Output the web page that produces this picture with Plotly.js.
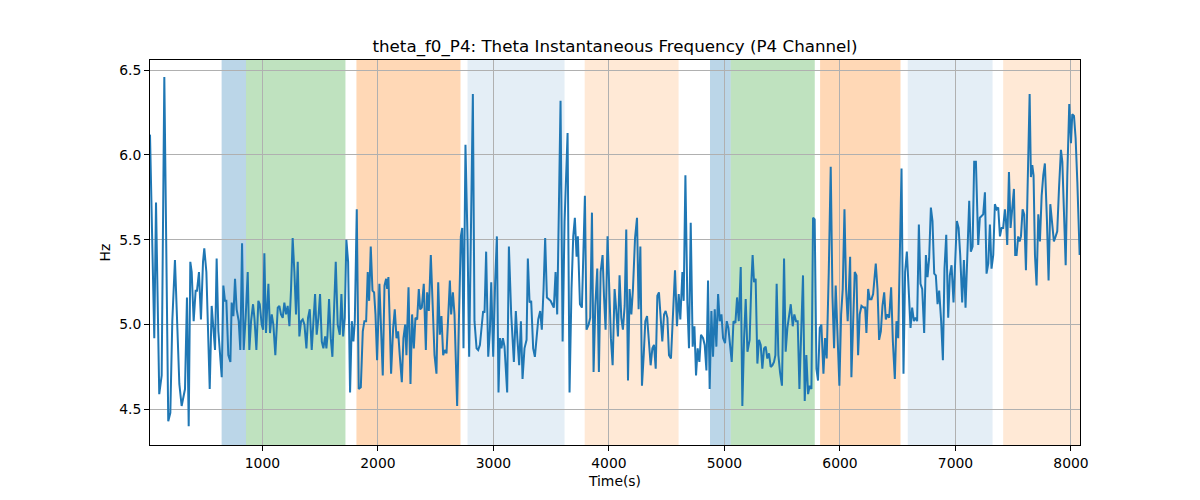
<!DOCTYPE html>
<html>
<head>
<meta charset="utf-8">
<script src="https://cdn.plot.ly/plotly-3.0.1.min.js"></script>
<style>
  html, body { margin: 0; padding: 0; background: #fff; }
  #myPlot { width: 1200px; height: 500px; }
</style>
</head>
<body>
<div id="myPlot"></div>
<script>
// Time (s) and theta instantaneous frequency (Hz)
const time = [
  27, 64, 79, 107, 128, 151, 185, 203, 220, 243, 281, 301, 330, 347, 362, 376, 388, 405, 422, 434,
  451, 468, 486, 497, 515, 544, 561, 575, 590, 604, 619, 648, 662, 676, 688, 705, 723, 734, 749, 763,
  777, 795, 809, 824, 838, 855, 873, 887, 902, 919, 931, 948, 965, 977, 994, 1006,
  1017, 1031, 1052, 1066, 1081, 1095, 1112, 1133, 1147, 1161, 1176, 1190, 1205, 1219, 1234, 1248, 1262, 1277, 1291, 1306,
  1320, 1335, 1349, 1364, 1381, 1395, 1410, 1427, 1442, 1456, 1470, 1485, 1499, 1514, 1528, 1543, 1554, 1563, 1577, 1592,
  1606, 1621, 1635, 1652, 1670, 1684, 1699, 1713, 1727, 1742, 1759, 1774, 1788, 1800, 1817, 1834, 1852, 1869, 1883, 1898,
  1912, 1924, 1938, 1953, 1967, 1979, 1993, 2013, 2028, 2042, 2057,
  2071, 2080, 2091, 2103, 2114, 2132, 2146, 2161, 2175, 2189, 2207, 2221, 2236, 2247, 2265, 2282, 2296, 2311, 2325, 2340,
  2354, 2366, 2380, 2397, 2415, 2426, 2441, 2458, 2475, 2490, 2507, 2522, 2536, 2550, 2565, 2579, 2594, 2608, 2623, 2634,
  2649, 2663, 2686, 2701, 2718, 2730, 2741, 2758, 2776, 2790, 2807, 2822, 2836, 2854, 2868, 2883, 2897, 2911, 2923, 2937,
  2955, 2969, 2981, 2998, 3015, 3030, 3044, 3056, 3070, 3082, 3096, 3119,
  3134, 3154, 3177, 3194, 3209, 3223, 3238, 3252, 3269, 3287, 3298, 3313, 3327, 3344, 3359, 3373, 3388, 3405, 3419, 3434,
  3448, 3463, 3477, 3495, 3509, 3523, 3538, 3552, 3567, 3581, 3599, 3616, 3642, 3659, 3676, 3691, 3705, 3720, 3731, 3749,
  3766, 3778, 3792, 3806, 3824, 3838, 3853, 3867, 3882, 3899, 3913, 3928, 3945, 3957, 3971, 3988, 4006, 4017, 4032, 4049,
  4063, 4078, 4092, 4107, 4121, 4136,
  4150, 4165, 4179, 4194, 4208, 4226, 4243, 4257, 4272, 4286, 4301, 4315, 4330, 4347, 4361, 4376, 4390, 4405, 4419, 4433,
  4448, 4462, 4477, 4491, 4506, 4520, 4537, 4555, 4572, 4589, 4604, 4618, 4636, 4647, 4662, 4679, 4693, 4708, 4725, 4740,
  4754, 4768, 4783, 4797, 4815, 4829, 4844, 4858, 4872, 4887, 4901, 4916, 4930, 4945, 4959, 4974, 4988, 5005, 5020, 5034,
  5049, 5063, 5078, 5095, 5109, 5124, 5141, 5155, 5170, 5184, 5199,
  5218, 5233, 5244, 5256, 5270, 5285, 5299, 5314, 5328, 5343, 5357, 5371, 5386, 5400, 5415, 5429, 5441, 5452, 5467, 5481,
  5498, 5516, 5530, 5545, 5559, 5574, 5591, 5605, 5620, 5634, 5649, 5666, 5680, 5695, 5709, 5724, 5738, 5753, 5767, 5781,
  5796, 5810, 5825, 5839, 5857, 5871, 5885, 5903, 5920, 5935, 5949, 5963, 5981, 5995, 6010, 6024, 6039, 6053, 6067, 6082,
  6088, 6099, 6114, 6128, 6143, 6157, 6171, 6186, 6203, 6218,
  6229, 6244, 6258, 6273, 6287, 6310, 6325, 6339, 6354, 6368, 6383, 6397, 6411, 6426, 6443, 6458, 6475, 6489, 6504, 6518,
  6533, 6550, 6564, 6579, 6593, 6611, 6625, 6640, 6654, 6668, 6683, 6697, 6712, 6729, 6744, 6758, 6772, 6787, 6801, 6816,
  6830, 6845, 6859, 6876, 6891, 6905, 6920, 6937, 6951, 6966, 6983, 6995, 7012, 7027, 7041, 7058, 7073, 7087, 7102, 7119,
  7133, 7148, 7162, 7177,
  7197, 7211, 7226, 7240, 7255, 7269, 7284, 7298, 7312, 7327, 7341, 7356, 7370, 7385, 7399, 7413, 7428, 7437, 7448, 7463,
  7477, 7491, 7506, 7517, 7529, 7543, 7555, 7567, 7581, 7595, 7610, 7624, 7642, 7653, 7665, 7676, 7688, 7702, 7717, 7731,
  7746, 7760, 7774, 7792, 7806, 7821, 7838, 7852, 7867, 7881, 7896, 7913, 7925, 7939, 7954, 7968, 7985, 8000, 8011, 8026,
  8040, 8055, 8075
];
const freq = [
  6.12, 4.92, 5.72, 4.59, 4.70, 6.46, 4.43, 4.48, 5.02, 5.38, 4.65, 4.52, 4.62, 5.16, 4.40, 5.37, 5.31, 5.02, 5.20, 5.20,
  5.31, 5.03, 5.37, 5.45, 5.31, 4.62, 5.11, 4.98, 4.85, 5.39, 4.96, 4.69, 5.23, 5.14, 5.14, 4.82, 4.78, 5.13, 5.05, 5.27,
  5.09, 5.02, 4.85, 5.48, 4.85, 5.04, 5.31, 4.85, 5.02, 5.12, 5.04, 4.85, 5.14, 5.12, 5.00, 4.97,
  5.42, 4.95, 5.24, 4.95, 5.06, 5.00, 4.82, 5.10, 5.11, 5.06, 5.04, 5.13, 5.06, 5.11, 4.99, 5.21, 5.51, 5.31, 5.06, 5.37,
  4.93, 5.02, 5.03, 5.00, 4.86, 5.04, 5.09, 4.85, 5.04, 5.18, 4.94, 5.04, 5.18, 4.90, 4.86, 4.93, 4.86, 4.93, 5.15, 4.92,
  4.81, 5.09, 5.37, 5.00, 4.94, 5.18, 4.93, 5.04, 5.50, 5.37, 4.60, 5.02, 4.90, 5.02, 5.68, 4.62, 4.63, 4.96, 5.02, 5.02,
  5.31, 5.14, 5.46, 5.20, 5.19, 5.06, 4.79, 5.24, 4.98, 4.70, 5.23,
  5.27, 5.21, 5.28, 5.00, 4.71, 4.98, 5.09, 4.92, 4.96, 4.82, 4.66, 4.92, 5.00, 4.82, 5.22, 4.65, 5.06, 4.86, 5.04, 5.03,
  5.21, 5.09, 5.10, 5.24, 4.85, 5.19, 5.08, 5.41, 5.07, 4.82, 4.71, 5.25, 4.94, 5.05, 4.82, 4.85, 4.83, 5.04, 5.26, 5.06,
  5.19, 5.06, 4.52, 5.02, 5.52, 5.57, 4.86, 6.06, 5.49, 4.81, 5.61, 6.36, 5.02, 4.86, 4.85, 4.88, 4.98, 5.08, 5.07, 5.43,
  4.81, 4.96, 5.25, 4.81, 5.25, 5.52, 4.60, 4.92, 4.86, 4.92, 4.87, 4.60,
  5.46, 5.06, 4.78, 5.08, 4.90, 4.76, 5.02, 4.68, 4.86, 4.91, 5.39, 5.13, 5.14, 4.86, 4.81, 4.92, 5.03, 5.08, 4.97, 5.21,
  5.51, 5.16, 5.15, 5.14, 5.12, 5.10, 5.31, 5.06, 5.70, 6.32, 4.90, 5.61, 6.13, 4.60, 5.21, 5.52, 5.63, 5.40, 5.52, 5.12,
  5.10, 5.41, 5.76, 4.97, 5.00, 5.04, 5.66, 4.72, 5.11, 5.33, 4.72, 5.31, 5.41, 5.17, 4.97, 5.52, 5.09, 4.92, 4.76, 5.21,
  5.09, 4.93, 5.29, 5.04, 4.97, 5.11,
  5.56, 4.67, 5.21, 5.06, 5.21, 5.51, 5.63, 5.09, 5.46, 4.64, 4.82, 5.02, 5.05, 4.88, 4.76, 4.86, 4.88, 4.74, 5.17, 5.19,
  5.06, 4.90, 5.06, 5.08, 5.04, 4.82, 4.80, 5.09, 5.32, 4.99, 5.18, 5.03, 5.31, 5.14, 5.88, 5.13, 4.86, 5.60, 4.87, 4.99,
  4.70, 4.86, 4.78, 4.94, 4.92, 4.88, 4.73, 5.26, 4.62, 5.08, 4.81, 5.09, 4.87, 5.18, 5.02, 5.06, 4.92, 4.89, 5.02, 4.98,
  4.86, 4.78, 5.02, 5.01, 5.16, 5.02, 5.34, 4.52, 4.92, 5.15, 4.84,
  4.91, 5.25, 5.41, 5.25, 5.27, 4.77, 4.91, 4.88, 4.74, 4.86, 4.87, 4.80, 4.83, 4.75, 4.76, 4.78, 4.82, 5.24, 4.82, 4.72,
  4.64, 5.39, 4.84, 4.98, 5.04, 5.12, 4.99, 5.06, 5.02, 5.02, 4.62, 5.04, 5.29, 4.55, 4.82, 4.59, 4.64, 4.62, 5.63, 5.62,
  4.74, 4.67, 4.98, 5.00, 4.71, 4.92, 4.80, 5.31, 5.93, 5.17, 4.86, 5.23, 4.86, 4.64, 5.06, 5.21, 5.68, 5.21, 5.02, 5.29,
  5.40, 4.69, 5.02, 5.31, 5.29, 4.82, 5.06, 5.11, 5.10, 5.10,
  4.95, 5.21, 5.15, 5.15, 5.18, 5.36, 5.21, 4.91, 4.96, 5.11, 5.19, 5.03, 5.06, 5.04, 5.22, 4.90, 4.68, 5.02, 4.92, 5.41,
  5.92, 4.71, 5.31, 5.43, 5.23, 4.98, 5.10, 5.02, 5.04, 5.02, 5.59, 5.24, 5.21, 4.95, 5.41, 5.28, 5.39, 5.69, 5.61, 5.30,
  5.29, 5.12, 5.20, 5.02, 4.79, 5.33, 5.53, 5.04, 5.29, 5.35, 5.13, 5.31, 5.61, 5.57, 5.41, 5.13, 5.38, 5.10, 5.41, 5.73,
  5.43, 5.46, 5.96, 5.96,
  5.47, 5.63, 5.64, 5.65, 5.78, 5.30, 5.36, 5.59, 5.33, 5.41, 5.71, 5.68, 5.69, 5.52, 5.57, 5.57, 5.68, 5.61, 5.47, 5.90,
  5.57, 5.68, 5.80, 5.41, 5.41, 5.52, 5.49, 5.52, 5.68, 5.65, 5.32, 5.80, 6.36, 5.87, 5.94, 5.88, 5.41, 5.23, 5.65, 5.49,
  5.76, 5.88, 5.95, 5.61, 5.26, 5.71, 5.57, 5.49, 5.52, 5.55, 5.80, 6.03, 5.96, 5.69, 5.35, 5.88, 6.30, 6.07, 6.24, 6.23,
  6.10, 5.84, 5.41
];

// shaded segments (start, end in seconds) and their kind
const spanStart = [647, 858, 1814, 2776, 3790, 4875, 5054, 5828, 6587, 7413];
const spanEnd   = [858, 1719, 2715, 3616, 4603, 5054, 5782, 6524, 7321, 8100];
const spanKind  = ['blue', 'green', 'orange', 'paleblue', 'paleorange',
                   'blue', 'green', 'orange', 'paleblue', 'paleorange'];

const kindColor = {
  blue: 'rgba(31,119,180,0.3)',
  green: 'rgba(44,160,44,0.3)',
  orange: 'rgba(255,127,14,0.3)',
  paleblue: 'rgba(31,119,180,0.12)',
  paleorange: 'rgba(255,127,14,0.17)'
};

const shapes = spanStart.map((s, i) => ({
  type: 'rect', xref: 'x', yref: 'paper',
  x0: s, x1: spanEnd[i], y0: 0, y1: 1,
  fillcolor: kindColor[spanKind[i]],
  line: {width: 0},
  layer: 'below'
}));

const data = [{
  x: time, y: freq, type: 'scatter', mode: 'lines',
  line: {color: '#1f77b4', width: 2},
  hoverinfo: 'x+y'
}];

const axisCommon = {
  showline: true, linecolor: 'black', linewidth: 1, mirror: true,
  ticks: 'outside', ticklen: 5, tickcolor: 'black', tickwidth: 1,
  showgrid: true, gridcolor: '#b0b0b0', gridwidth: 1,
  zeroline: false,
  tickfont: {family: 'DejaVu Sans', size: 13.9, color: 'black'}
};

const layout = {
  width: 1200, height: 500,
  margin: {l: 150, r: 120, t: 60, b: 55},
  paper_bgcolor: 'white', plot_bgcolor: 'white',
  showlegend: false,
  font: {family: 'DejaVu Sans', color: 'black'},
  title: {
    text: 'theta_f0_P4: Theta Instantaneous Frequency (P4 Channel)',
    font: {family: 'DejaVu Sans', size: 16.7, color: 'black'},
    x: 0.5125, xanchor: 'center', yref: 'container', y: 0.908, yanchor: 'middle'
  },
  xaxis: Object.assign({}, axisCommon, {
    range: [27, 8078],
    tickvals: [1000, 2000, 3000, 4000, 5000, 6000, 7000, 8000],
    title: {text: 'Time(s)', font: {family: 'DejaVu Sans', size: 13.9}, standoff: 6}
  }),
  yaxis: Object.assign({}, axisCommon, {
    range: [4.29, 6.56],
    tickvals: [4.5, 5.0, 5.5, 6.0, 6.5],
    ticktext: ['4.5', '5.0', '5.5', '6.0', '6.5'],
    title: {text: 'Hz', font: {family: 'DejaVu Sans', size: 13.9}, standoff: 5}
  }),
  shapes: shapes
};

Plotly.newPlot('myPlot', data, layout, {displayModeBar: false, staticPlot: true});
</script>
</body>
</html>
